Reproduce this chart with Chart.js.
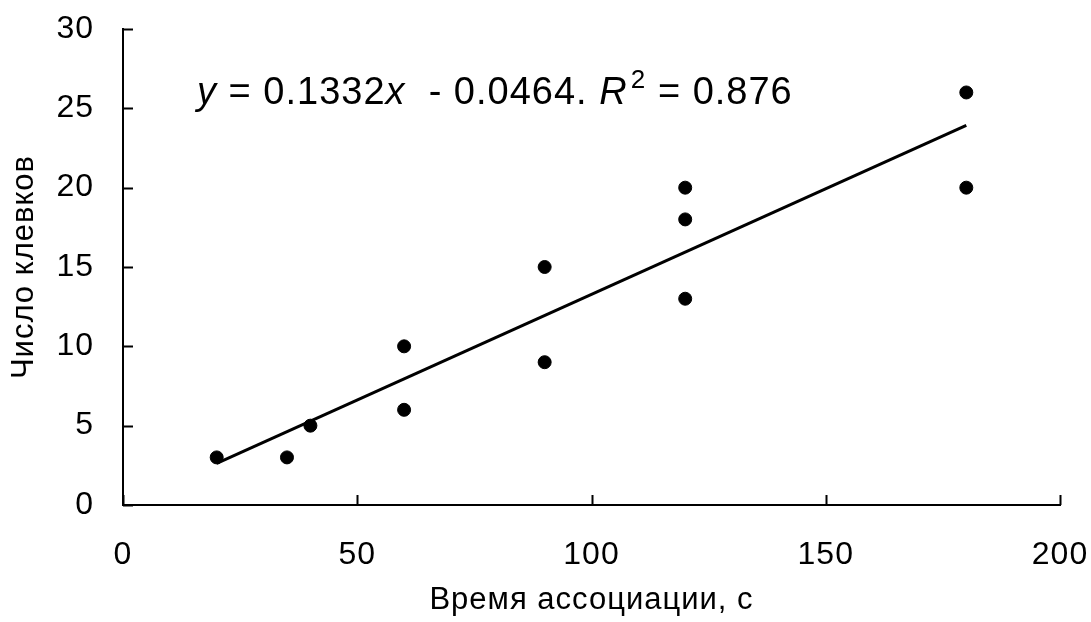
<!DOCTYPE html>
<html>
<head>
<meta charset="utf-8">
<script src="https://cdn.jsdelivr.net/npm/chart.js@4"></script>
<style>
  html, body { margin: 0; background: #fff; }
  #wrap { width: 1091px; height: 622px; }
</style>
</head>
<body>
<div id="wrap"><canvas id="chart"></canvas></div>
<script>
// data
const assocTime = [20, 35, 40, 60, 60, 90, 90, 120, 120, 120, 180, 180];
const pecks = [3, 3, 5, 10, 6, 15, 9, 20, 18, 13, 26, 20];
const xTicks = [0, 50, 100, 150, 200];
const yTicks = [0, 5, 10, 15, 20, 25, 30];
// linear trendline as printed on the chart
const slope = 0.1332, intercept = -0.0464, rSquared = 0.876;
const trendX = [20, 180];

const FONT = '"Liberation Sans", Arial, sans-serif';

// the reference text is a bit loosely spaced
const spacing = {
  id: 'spacing',
  beforeDraw(chart) { chart.ctx.letterSpacing = '1px'; },
  beforeLayout(chart) { chart.ctx.letterSpacing = '1px'; }
};

// tick marks pointing into the plot + the equation label
const extras = {
  id: 'extras',
  afterDraw(chart) {
    const {ctx, chartArea: a, scales: {x, y}} = chart;
    ctx.save();
    ctx.strokeStyle = '#000';
    ctx.lineWidth = 2;
    ctx.beginPath();
    yTicks.forEach(v => {
      const py = Math.round(y.getPixelForValue(v)) + 0.5;
      ctx.moveTo(a.left, py);
      ctx.lineTo(a.left + 10, py);
    });
    xTicks.forEach(v => {
      const px = Math.round(x.getPixelForValue(v)) + 0.5;
      ctx.moveTo(px, a.bottom);
      ctx.lineTo(px, a.bottom - 10);
    });
    ctx.stroke();

    // equation: y = 0.1332x - 0.0464. R² = 0.876
    const parts = [
      ['y', 'italic', 38, 0],
      [' = ' + slope.toFixed(4), 'normal', 38, 0],
      ['x', 'italic', 38, 0],
      ['  - ' + Math.abs(intercept).toFixed(4) + '. ', 'normal', 38, 0],
      ['R', 'italic', 38, 0],
      [' ', 'normal', 8, 0],
      ['2', 'normal', 26, -16],
      [' = ' + rSquared, 'normal', 38, 0]
    ];
    let cx = a.left + 74;
    const base = a.top + 75;
    ctx.fillStyle = '#000';
    ctx.textBaseline = 'alphabetic';
    ctx.textAlign = 'left';
    ctx.letterSpacing = '1px';
    parts.forEach(([t, style, size, dy]) => {
      ctx.font = style + ' ' + size + 'px ' + FONT;
      ctx.fillText(t, cx, base + dy);
      cx += ctx.measureText(t).width;
    });
    ctx.restore();
  }
};

new Chart(document.getElementById('chart').getContext('2d'), {
  type: 'scatter',
  data: {
    datasets: [
      {
        label: 'trend',
        type: 'line',
        data: trendX.map(v => ({x: v, y: slope * v + intercept})),
        borderColor: '#000',
        borderWidth: 3,
        pointRadius: 0,
        fill: false
      },
      {
        label: 'points',
        data: assocTime.map((t, i) => ({x: t, y: pecks[i]})),
        backgroundColor: '#000',
        borderColor: '#000',
        pointRadius: 6.5,
        pointHoverRadius: 6.5
      }
    ]
  },
  plugins: [spacing, extras],
  options: {
    responsive: true,
    maintainAspectRatio: false,
    animation: false,
    layout: { padding: { top: 29, right: 31, left: 0, bottom: 0 } },
    plugins: {
      legend: { display: false },
      tooltip: { enabled: false }
    },
    scales: {
      x: {
        type: 'linear',
        min: 0,
        max: 200,
        afterBuildTicks: s => { s.ticks = xTicks.map(v => ({value: v})); },
        afterFit: s => { s.height = 117; s.paddingLeft = 0; s.paddingRight = 0; },
        grid: { display: false },
        border: { display: true, color: '#000', width: 2 },
        ticks: { color: '#000', padding: 23, font: { family: FONT, size: 32 } },
        title: {
          display: true,
          text: 'Время ассоциации, с',
          color: '#000',
          font: { family: FONT, size: 31 },
          padding: { top: 0, bottom: 3 }
        }
      },
      y: {
        type: 'linear',
        min: 0,
        max: 30,
        afterBuildTicks: s => { s.ticks = yTicks.map(v => ({value: v})); },
        afterFit: s => { s.width = 123; s.paddingTop = 0; s.paddingBottom = 0; },
        grid: { display: false },
        border: { display: true, color: '#000', width: 2 },
        ticks: { color: '#000', padding: 21, font: { family: FONT, size: 32 } },
        title: {
          display: true,
          text: 'Число клевков',
          color: '#000',
          font: { family: FONT, size: 31 },
          padding: { top: 6, bottom: 0 }
        }
      }
    }
  }
});
</script>
</body>
</html>
